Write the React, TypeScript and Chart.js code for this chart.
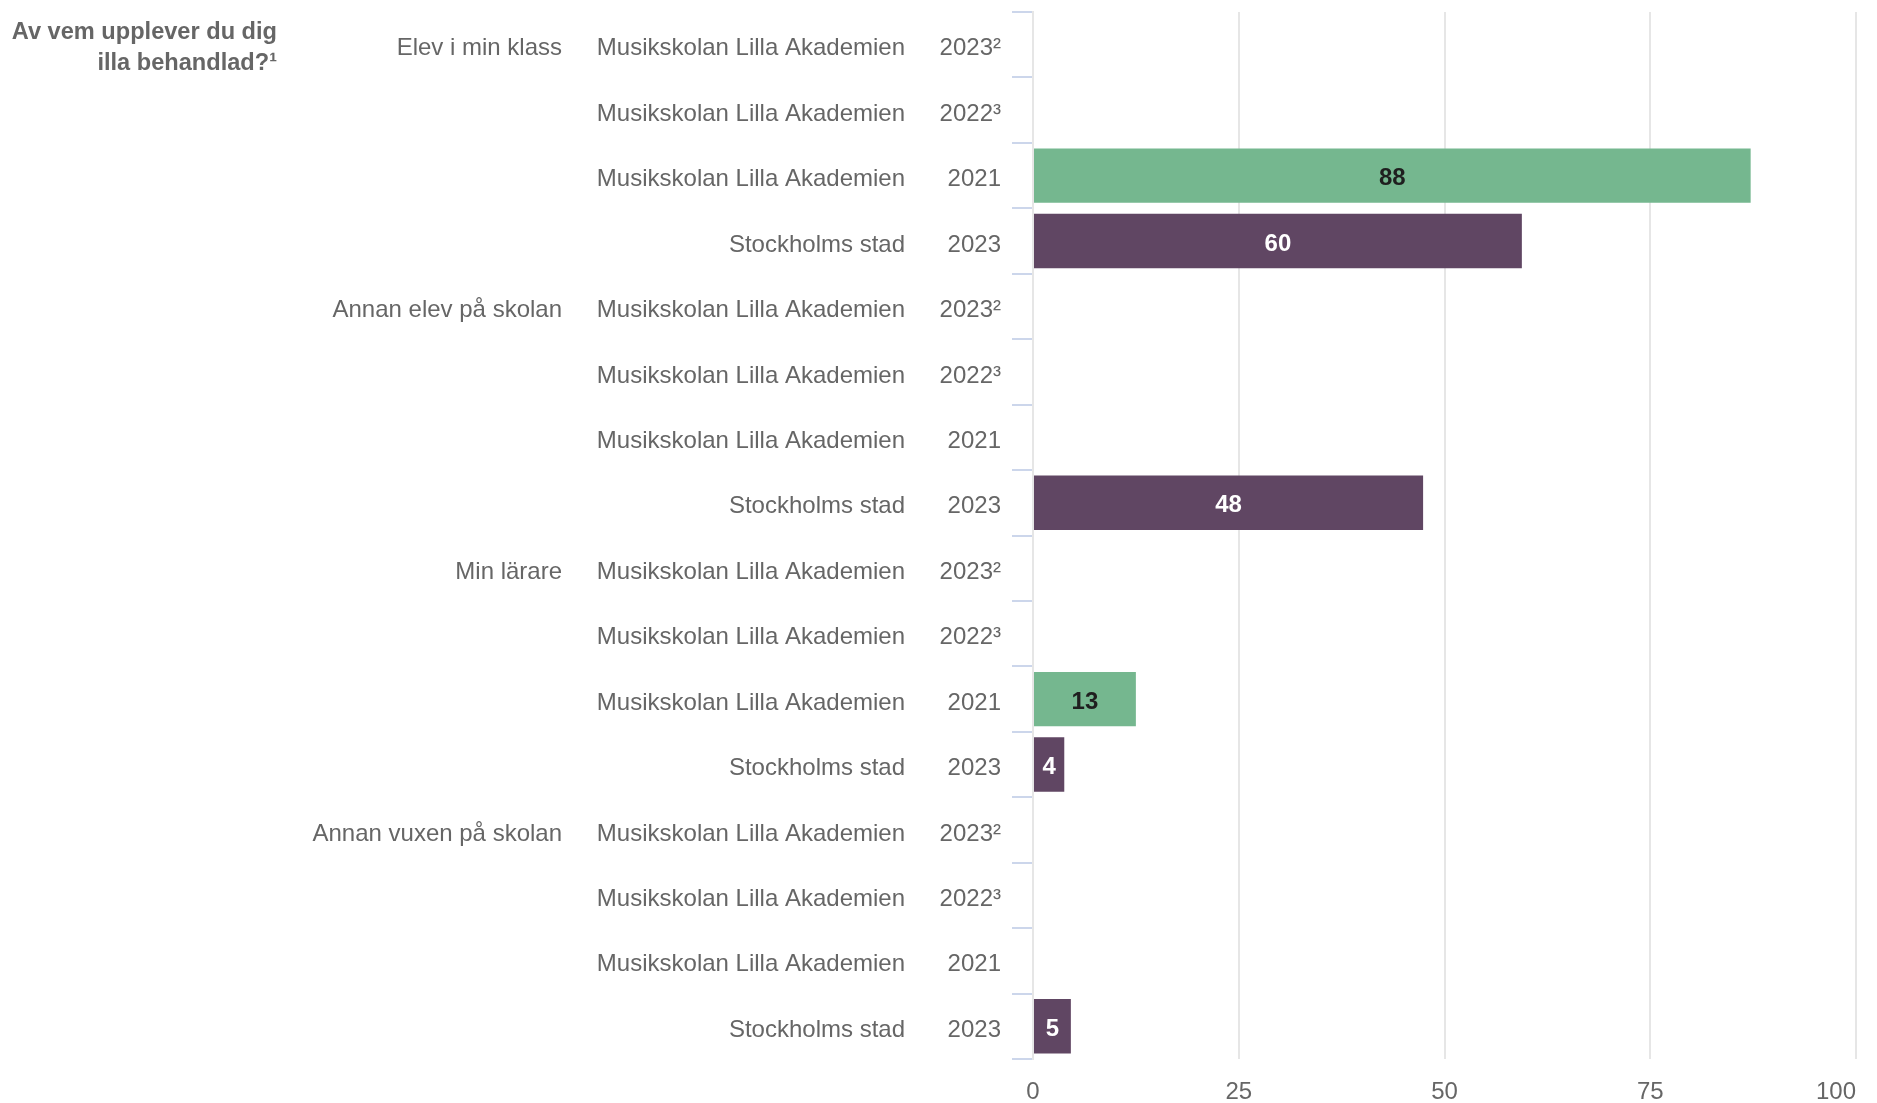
import React, { useEffect, useRef } from 'react';
import { Chart, registerables } from 'chart.js';

Chart.register(...registerables);

const FONT = '"Liberation Sans", Arial, Helvetica, sans-serif';

const titleLines = ['Av vem upplever du dig', 'illa behandlad?¹'];

const categoryGroups = [
  'Elev i min klass', '', '', '',
  'Annan elev på skolan', '', '', '',
  'Min lärare', '', '', '',
  'Annan vuxen på skolan', '', '', '',
];

const categoryUnits = [
  'Musikskolan Lilla Akademien', 'Musikskolan Lilla Akademien', 'Musikskolan Lilla Akademien', 'Stockholms stad',
  'Musikskolan Lilla Akademien', 'Musikskolan Lilla Akademien', 'Musikskolan Lilla Akademien', 'Stockholms stad',
  'Musikskolan Lilla Akademien', 'Musikskolan Lilla Akademien', 'Musikskolan Lilla Akademien', 'Stockholms stad',
  'Musikskolan Lilla Akademien', 'Musikskolan Lilla Akademien', 'Musikskolan Lilla Akademien', 'Stockholms stad',
];

const categoryYears = [
  '2023²', '2022³', '2021', '2023',
  '2023²', '2022³', '2021', '2023',
  '2023²', '2022³', '2021', '2023',
  '2023²', '2022³', '2021', '2023',
];

const musikskolanValues = [
  null, null, 87.2, null,
  null, null, null, null,
  null, null, 12.5, null,
  null, null, null, null,
];
const musikskolanLabels = [
  null, null, '88', null,
  null, null, null, null,
  null, null, '13', null,
  null, null, null, null,
];

const stockholmValues = [
  null, null, null, 59.4,
  null, null, null, 47.4,
  null, null, null, 3.8,
  null, null, null, 4.6,
];
const stockholmLabels = [
  null, null, null, '60',
  null, null, null, '48',
  null, null, null, '4',
  null, null, null, '5',
];

const xTicks = [0, 25, 50, 75, 100];

const seriesLabels = [musikskolanLabels, stockholmLabels];
const labelColors = ['#1f1f1f', '#ffffff'];

const valueLabelPlugin = {
  id: 'valueLabels',
  afterDatasetsDraw(chart: any) {
    const ctx = chart.ctx;
    chart.data.datasets.forEach((_ds: any, di: number) => {
      const meta = chart.getDatasetMeta(di);
      meta.data.forEach((bar: any, i: number) => {
        const lbl = seriesLabels[di][i];
        if (lbl == null) return;
        const p = bar.getProps(['x', 'y', 'base'], true);
        ctx.save();
        ctx.font = `bold 24px ${FONT}`;
        ctx.fillStyle = labelColors[di];
        ctx.textAlign = 'center';
        ctx.textBaseline = 'middle';
        ctx.fillText(lbl, (p.x + p.base) / 2, p.y + 3);
        ctx.restore();
      });
    });
  },
};

function noPadding(scale: any) {
  scale.paddingTop = 0;
  scale.paddingBottom = 0;
  scale.paddingLeft = 0;
  scale.paddingRight = 0;
}

export default function App() {
  const canvasRef = useRef<HTMLCanvasElement | null>(null);

  useEffect(() => {
    if (!canvasRef.current) return;
    const tickFont = { size: 24, family: FONT };
    const chart = new Chart(canvasRef.current, {
      type: 'bar',
      data: {
        labels: categoryYears,
        datasets: [
          {
            label: 'Musikskolan Lilla Akademien',
            data: musikskolanValues as any,
            backgroundColor: '#75b78f',
            borderWidth: 0,
            grouped: false,
            barPercentage: 0.83,
            categoryPercentage: 1,
          },
          {
            label: 'Stockholms stad',
            data: stockholmValues as any,
            backgroundColor: '#604663',
            borderWidth: 0,
            grouped: false,
            barPercentage: 0.83,
            categoryPercentage: 1,
          },
        ],
      },
      options: {
        indexAxis: 'y',
        animation: false,
        responsive: true,
        maintainAspectRatio: false,
        layout: { padding: { top: 12, right: 21, left: 0, bottom: 0 } },
        plugins: {
          legend: { display: false },
          tooltip: { enabled: false },
        },
        scales: {
          x: {
            type: 'linear',
            position: 'bottom',
            min: 0,
            max: 100,
            afterBuildTicks(scale: any) {
              scale.ticks = xTicks.map((v) => ({ value: v }));
            },
            ticks: {
              color: '#666666',
              font: tickFont,
              padding: 19,
              // last label is kept inside the plot edge, as in the original
              callback: (v: any, i: number) => (i === xTicks.length - 1 ? `${v}      ` : `${v}`),
            },
            grid: { color: '#e6e6e6', lineWidth: 2, drawTicks: false },
            border: { display: false },
            afterFit(scale: any) {
              scale.height = 44;
              noPadding(scale);
            },
          },
          y: {
            type: 'category',
            position: 'left',
            weight: 0,
            offset: true,
            ticks: { color: '#666666', font: tickFont, padding: 11, autoSkip: false, labelOffset: 4 },
            grid: { offset: true, drawOnChartArea: false, color: '#ccd6eb', lineWidth: 2, tickLength: 21 },
            border: { color: '#e6e6e6', width: 2 },
            afterFit(scale: any) {
              scale.width = 118;
              noPadding(scale);
            },
          },
          yUnit: {
            type: 'category',
            labels: categoryUnits,
            position: 'left',
            weight: 1,
            offset: true,
            ticks: { color: '#666666', font: tickFont, padding: 10, autoSkip: false, labelOffset: 4 },
            grid: { display: false, drawTicks: false },
            border: { display: false },
            afterFit(scale: any) {
              scale.width = 343;
              noPadding(scale);
            },
          },
          yGroup: {
            type: 'category',
            labels: categoryGroups,
            position: 'left',
            weight: 2,
            offset: true,
            ticks: { color: '#666666', font: tickFont, padding: 10, autoSkip: false, labelOffset: 4 },
            grid: { display: false, drawTicks: false },
            border: { display: false },
            afterFit(scale: any) {
              scale.width = 572;
              noPadding(scale);
            },
          },
        } as any,
      },
      plugins: [valueLabelPlugin],
    });
    return () => chart.destroy();
  }, []);

  return (
    <div style={{ position: 'fixed', left: 0, top: 0, width: 1877, height: 1103, background: '#ffffff' }}>
      <canvas ref={canvasRef} />
      <div
        style={{
          position: 'absolute',
          left: 0,
          top: 16,
          width: 277,
          textAlign: 'right',
          fontFamily: FONT,
          fontWeight: 'bold',
          fontSize: 23.6,
          lineHeight: '31px',
          color: '#666666',
        }}
      >
        {titleLines.map((t) => (
          <div key={t}>{t}</div>
        ))}
      </div>
    </div>
  );
}
